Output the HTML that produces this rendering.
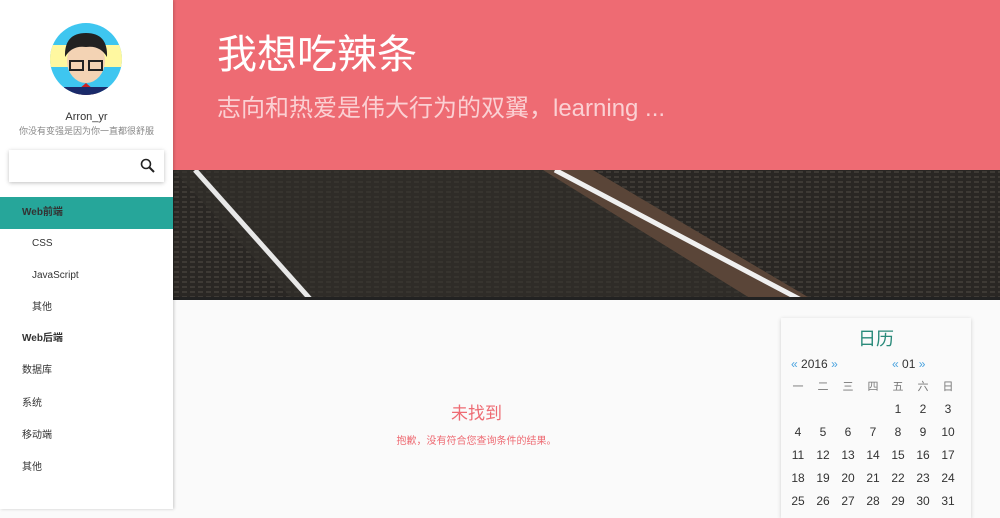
<!DOCTYPE html>
<html><head><meta charset="utf-8">
<style>
*{margin:0;padding:0;box-sizing:border-box}
body{width:1000px;height:509px;overflow:hidden;background:#fafafa;font-family:"Liberation Sans","Noto Sans CJK SC",sans-serif;position:relative}
#side{position:absolute;left:0;top:0;width:173px;height:509px;background:#fff;box-shadow:1px 0 3px rgba(0,0,0,.2);z-index:2}
.avatar{position:absolute;left:50px;top:23px;width:72px;height:72px;border-radius:50%;overflow:hidden;background:#3ec6f0}
.name{position:absolute;top:111px;width:173px;text-align:center;font-size:11px;color:#333}
.motto{position:absolute;top:124px;width:173px;text-align:center;font-size:9px;color:#888}
.search{position:absolute;left:9px;top:150px;width:155px;height:32px;background:#fff;box-shadow:0 1px 4px rgba(0,0,0,.25)}
.menu div{position:absolute;left:0;width:173px;height:32px;line-height:32px;font-size:10px;color:#333;padding-left:22px}
.menu .sub{padding-left:32px}
.menu .active{background:#26a69a;color:#333;font-weight:bold}
#head{position:absolute;left:173px;top:0;width:827px;height:170px;background:#ee6b73}
#head h1{position:absolute;left:44px;top:22px;font-size:40px;font-weight:normal;color:#fff}
#head h2{position:absolute;left:44px;top:88px;font-size:24px;font-weight:normal;color:#fbd0d3}
#img{position:absolute;left:173px;top:170px}
.nf{position:absolute;left:173px;width:607px;text-align:center;color:#ee6b73}
#cal{position:absolute;left:781px;top:318px;width:190px;height:200px;background:#fafafa;box-shadow:0 1px 4px rgba(0,0,0,.18)}
#cal .t{position:absolute;top:7px;width:190px;text-align:center;font-size:18px;color:#2a8a7a}
.c{position:absolute;font-size:12px;color:#333;width:24px;text-align:center}
.b{color:#4aa3df}
</style></head><body>
<div id="side">
 <div class="avatar">
  <svg width="72" height="72"><rect y="22" width="72" height="22" fill="#fff8a0"/><ellipse cx="36" cy="38" rx="19" ry="22" fill="#f3d3b4"/><path d="M15 34 Q14 10 36 10 Q58 10 57 34 Q50 22 36 24 Q22 22 15 34Z" fill="#222"/><rect x="20" y="38" width="13" height="9" fill="none" stroke="#222" stroke-width="2"/><rect x="39" y="38" width="13" height="9" fill="none" stroke="#222" stroke-width="2"/><path d="M22 72 L36 60 L50 72Z" fill="#c22"/><rect x="14" y="64" width="44" height="8" fill="#1a2a6a"/></svg>
 </div>
 <div class="name">Arron_yr</div>
 <div class="motto">你没有变强是因为你一直都很舒服</div>
 <div class="search">
  <svg style="position:absolute;left:131px;top:8px" width="16" height="16"><circle cx="6" cy="6" r="4.5" fill="none" stroke="#222" stroke-width="1.6"/><line x1="9.5" y1="9.5" x2="14" y2="14" stroke="#222" stroke-width="2"/></svg>
 </div>
 <div class="menu">
  <div class="active" style="top:197px">Web前端</div>
  <div class="sub" style="top:228px">CSS</div>
  <div class="sub" style="top:260px">JavaScript</div>
  <div class="sub" style="top:292px">其他</div>
  <div style="top:323px;font-weight:bold">Web后端</div>
  <div style="top:355px">数据库</div>
  <div style="top:388px">系统</div>
  <div style="top:420px">移动端</div>
  <div style="top:452px">其他</div>
 </div>
</div>
<div id="head">
 <h1>我想吃辣条</h1>
 <h2>志向和热爱是伟大行为的双翼，learning ...</h2>
</div>
<svg id="img" width="827" height="130">
 <defs><pattern id="p" width="8" height="5" patternUnits="userSpaceOnUse"><rect width="8" height="5" fill="#2a2724"/><rect x="1" y="1" width="5" height="2" fill="#3e3a35"/></pattern></defs>
 <rect width="827" height="130" fill="url(#p)"/>
 <polygon points="0,0 380,0 620,130 120,130" fill="#34302c" opacity=".6"/>
 <polygon points="370,0 420,0 640,130 580,130" fill="#5a4538"/>
 <line x1="22" y1="0" x2="138" y2="130" stroke="#e8e8e8" stroke-width="5"/>
 <line x1="382" y1="0" x2="628" y2="130" stroke="#f0f0f0" stroke-width="5"/>
 <rect y="127" width="827" height="3" fill="#222"/>
</svg>
<div class="nf" style="top:399px;font-size:17px">未找到</div>
<div class="nf" style="top:432px;font-size:10px">抱歉，没有符合您查询条件的结果。</div>
<div id="cal">
 <div class="t">日历</div>
</div>
<script>
const weekdays=['一','二','三','四','五','六','日'];
const firstOffset=4, days=31;
const cal=document.getElementById('cal');
function add(txt,x,y,name,inter,extra){const d=document.createElement('div');d.className='c';d.style.left=x+'px';d.style.top=y+'px';d.innerHTML=txt;if(extra)d.style.cssText+=extra;


cal.appendChild(d);}
const nav1=document.createElement('div');nav1.className='c';nav1.style.cssText='left:10px;top:39px;width:60px;text-align:left';nav1.innerHTML='<span class="b">«</span> 2016 <span class="b">»</span>';


cal.appendChild(nav1);
const nav2=document.createElement('div');nav2.className='c';nav2.style.cssText='left:111px;top:39px;width:60px;text-align:left';nav2.innerHTML='<span class="b">«</span> 01 <span class="b">»</span>';


cal.appendChild(nav2);
weekdays.forEach((w,i)=>add(w,5+i*25,60,'weekday-'+(i+1),'false','color:#777;font-size:11px'));
for(let d=1;d<=days;d++){const k=d-1+firstOffset;add(d,5+(k%7)*25,84+Math.floor(k/7)*23,'day-'+d,'true');}
</script>
</body></html>
